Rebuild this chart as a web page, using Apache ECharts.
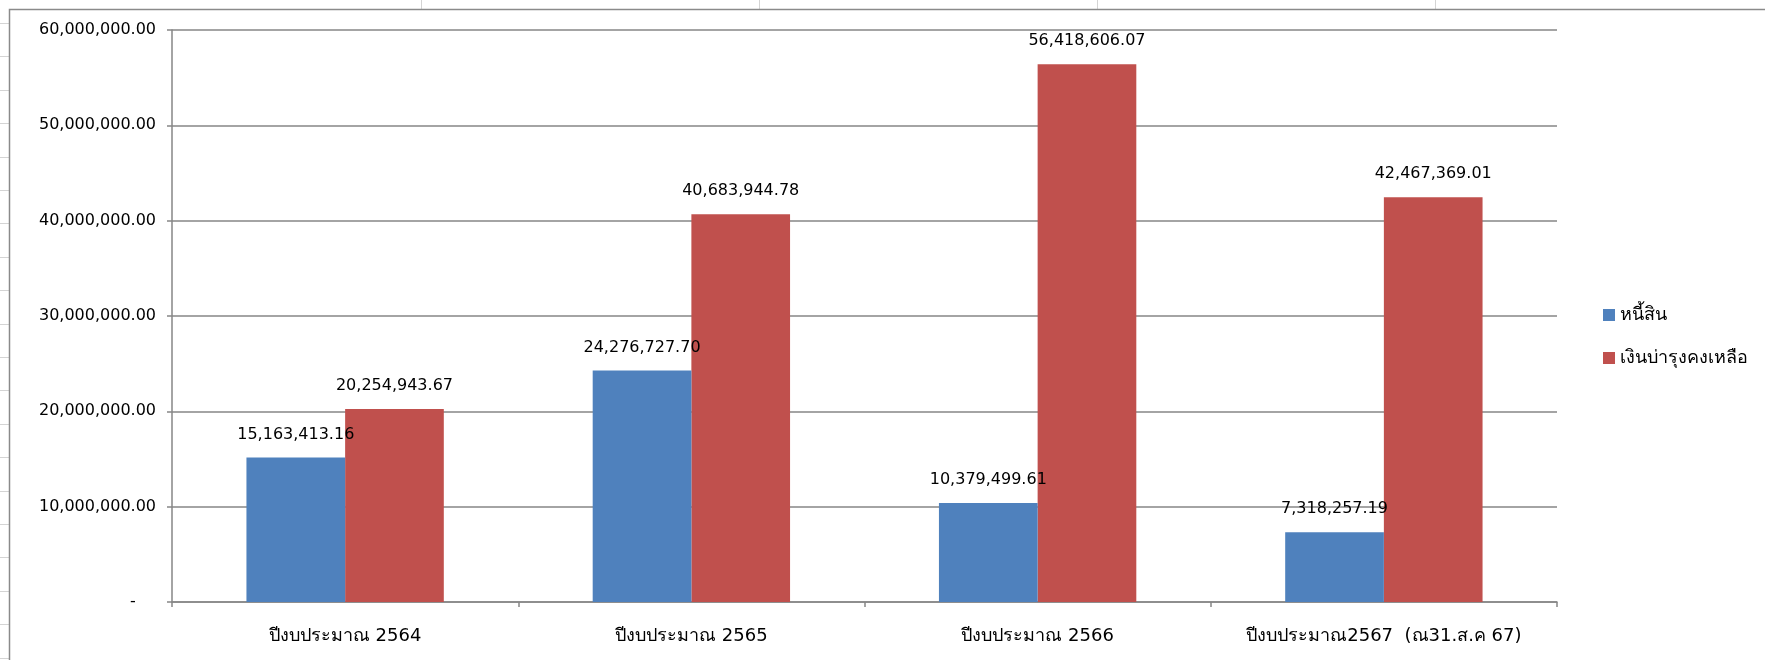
<!DOCTYPE html>
<html><head><meta charset="utf-8">
<script src="https://cdn.jsdelivr.net/npm/echarts@6/dist/echarts.min.js"></script>
<style>html,body{margin:0;padding:0;background:#fff}#c{width:1765px;height:660px}</style>
</head><body><div id="c"></div>
<script>
const categories = ["ปีงบประมาณ 2564", "ปีงบประมาณ 2565", "ปีงบประมาณ 2566", "ปีงบประมาณ2567  (ณ31.ส.ค 67)"];
const seriesNames = ["หนี้สิน", "เงินบ่ารุงคงเหลือ"];
const debt = [15163413.16, 24276727.70, 10379499.61, 7318257.19];
const remaining = [20254943.67, 40683944.78, 56418606.07, 42467369.01];
const yTicks = [0, 10000000, 20000000, 30000000, 40000000, 50000000, 60000000];

const numFont = "DejaVu Sans";
const thaiFont = "Tahoma, 'DejaVu Sans', sans-serif";
function fmt(v){
  if (v === 0) return "-";
  return v.toLocaleString("en-US",{minimumFractionDigits:2, maximumFractionDigits:2});
}

// decorative spreadsheet cell lines outside the chart frame
const deco = [];
for (let y = 23; y < 660; y += 33.4) {
  deco.push({type:'line', shape:{x1:0,y1:Math.round(y)+0.5,x2:9,y2:Math.round(y)+0.5}, style:{stroke:'#d4d4d4',lineWidth:1}, silent:true});
}
[421, 759, 1097, 1435].forEach(x=>{
  deco.push({type:'line', shape:{x1:x+0.5,y1:0,x2:x+0.5,y2:9}, style:{stroke:'#d4d4d4',lineWidth:1}, silent:true});
});
deco.push({type:'rect', shape:{x:9.5,y:9.5,width:1800,height:700}, style:{fill:null, stroke:'#8a8a8a', lineWidth:1.5}, silent:true});

const chart = echarts.init(document.getElementById('c'), null, {renderer:'canvas'});
chart.setOption({
  animation:false,
  backgroundColor:'#ffffff',
  graphic: deco,
  color:['#4F81BD','#C0504D'],
  grid:{left:172, right:208, top:30, bottom:58, containLabel:false},
  legend:{
    orient:'vertical', left:1598, top:301,
    itemWidth:12, itemHeight:12, itemGap:25, icon:'rect',
    textStyle:{fontFamily:thaiFont, fontSize:18, color:'#000'},
    data: seriesNames
  },
  xAxis:{
    type:'category', data:categories,
    axisLine:{lineStyle:{color:'#868686', width:1.5}},
    axisTick:{show:true, interval:0, alignWithLabel:false, length:5, lineStyle:{color:'#868686', width:1.5}},
    axisLabel:{interval:0, hideOverlap:false, margin:25, color:'#000', fontSize:18, fontFamily:thaiFont}
  },
  yAxis:{
    type:'value', min:0, max:60000000, interval:10000000,
    axisLine:{show:true, lineStyle:{color:'#868686', width:1.5}},
    axisTick:{show:true, length:5, lineStyle:{color:'#868686', width:1.5}},
    splitLine:{lineStyle:{color:'#868686', width:1.5}},
    axisLabel:{margin:16, color:'#000', fontSize:16, fontFamily:numFont,
      formatter:(v)=> v === 0 ? "-    " : fmt(v)}
  },
  series:[
    {name:seriesNames[0], type:'bar', data:debt, barGap:'0%', barCategoryGap:'43%',
     label:{show:true, position:'top', distance:15, color:'#000', fontSize:16, fontFamily:numFont, formatter:(p)=>fmt(p.value)}, z:3},
    {name:seriesNames[1], type:'bar', data:remaining, barGap:'0%', barCategoryGap:'43%',
     label:{show:true, position:'top', distance:15, color:'#000', fontSize:16, fontFamily:numFont, formatter:(p)=>fmt(p.value)}, z:2}
  ]
});
</script></body></html>
